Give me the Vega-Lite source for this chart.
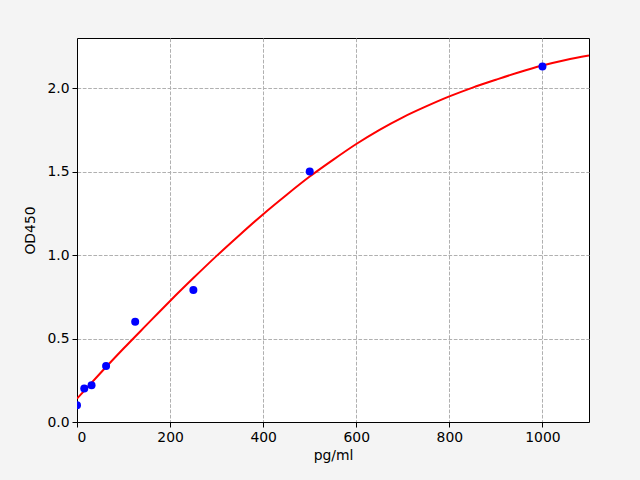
{
  "$schema": "https://vega.github.io/schema/vega-lite/v6.json",
  "width": 512,
  "height": 384,
  "autosize": {"type": "none"},
  "padding": {"left": 77, "top": 38, "right": 51, "bottom": 58},
  "background": "#f4f4f4",
  "config": {
    "view": {"stroke": "#000000", "strokeWidth": 1, "fill": "#ffffff"},
    "axis": {
      "labelFont": "DejaVu Sans",
      "titleFont": "DejaVu Sans",
      "labelFontSize": 13.9,
      "titleFontSize": 13.9,
      "titleFontWeight": "normal",
      "labelColor": "#000000",
      "titleColor": "#000000",
      "domainColor": "#000000",
      "tickColor": "#000000",
      "tickSize": 5,
      "labelPadding": 3,
      "gridColor": "#b0b0b0",
      "gridDash": [3.7, 1.6],
      "gridWidth": 1
    }
  },
  "datasets": {
    "points": [
      {"x": 0, "y": 0.1},
      {"x": 15.625, "y": 0.2},
      {"x": 31.25, "y": 0.22},
      {"x": 62.5, "y": 0.335},
      {"x": 125, "y": 0.6},
      {"x": 250, "y": 0.79},
      {"x": 500, "y": 1.5},
      {"x": 1000, "y": 2.13}
    ],
    "curve": [
      {"x": 0, "y": 0.14},
      {"x": 50, "y": 0.292},
      {"x": 100, "y": 0.44},
      {"x": 150, "y": 0.583},
      {"x": 200, "y": 0.725},
      {"x": 250, "y": 0.862},
      {"x": 300, "y": 0.995},
      {"x": 350, "y": 1.122},
      {"x": 400, "y": 1.245},
      {"x": 450, "y": 1.36},
      {"x": 500, "y": 1.47},
      {"x": 550, "y": 1.57},
      {"x": 600, "y": 1.665},
      {"x": 650, "y": 1.75},
      {"x": 700, "y": 1.825},
      {"x": 750, "y": 1.89},
      {"x": 800, "y": 1.95},
      {"x": 850, "y": 2.003},
      {"x": 900, "y": 2.05},
      {"x": 950, "y": 2.095},
      {"x": 1000, "y": 2.135},
      {"x": 1050, "y": 2.168},
      {"x": 1100, "y": 2.195}
    ]
  },
  "layer": [
    {
      "data": {"name": "curve"},
      "mark": {"type": "line", "color": "#ff0000", "strokeWidth": 2, "interpolate": "monotone", "clip": true},
      "encoding": {
        "x": {
          "field": "x", "type": "quantitative",
          "scale": {"domain": [0, 1100], "nice": false, "zero": false},
          "axis": {"title": "pg/ml", "values": [0, 200, 400, 600, 800, 1000], "format": "d", "titlePadding": 5, "grid": true}
        },
        "y": {
          "field": "y", "type": "quantitative",
          "scale": {"domain": [0, 2.3], "nice": false, "zero": false},
          "axis": {"title": "OD450", "values": [0, 0.5, 1.0, 1.5, 2.0], "format": ".1f", "titlePadding": 9, "grid": true}
        }
      }
    },
    {
      "data": {"name": "points"},
      "mark": {"type": "circle", "color": "#0000ff", "opacity": 1, "size": 64, "clip": true},
      "encoding": {
        "x": {"field": "x", "type": "quantitative"},
        "y": {"field": "y", "type": "quantitative"}
      }
    }
  ]
}
